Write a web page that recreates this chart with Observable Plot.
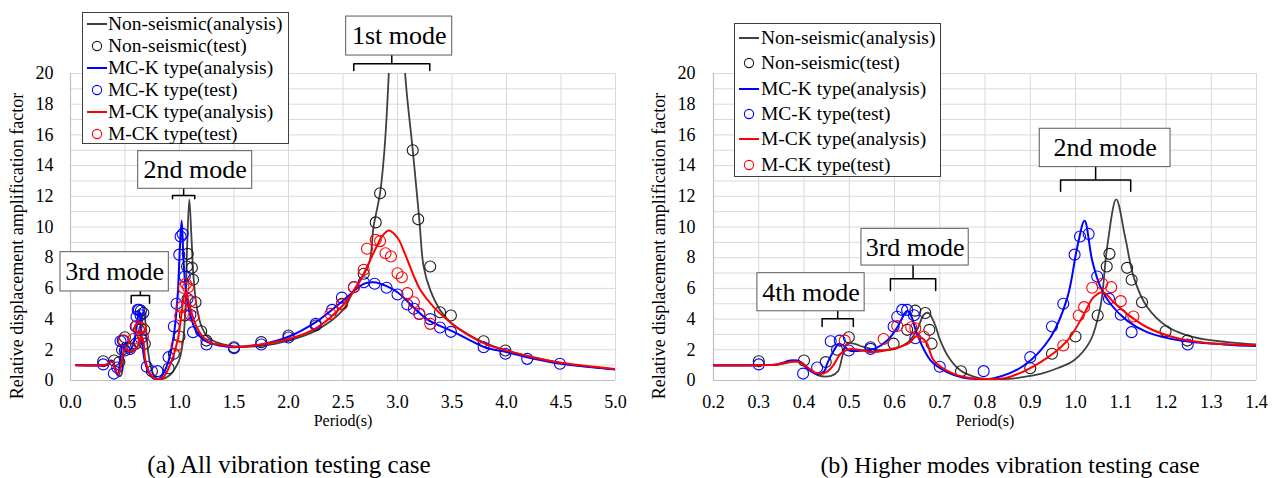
<!DOCTYPE html>
<html>
<head>
<meta charset="utf-8">
<script src="https://cdn.jsdelivr.net/npm/d3@7"></script>
<script src="https://cdn.jsdelivr.net/npm/@observablehq/plot@0.6"></script>
<style>
  html, body { margin: 0; padding: 0; background: #fff; }
  #wrap { position: relative; width: 1274px; height: 478px; overflow: hidden; font-family: 'Liberation Serif', 'Times New Roman', serif; color: #000; }
  .panel { position: absolute; top: 0; }
  .caption { position: absolute; top: 451px; height: 28px; line-height: 28px; text-align: center; font-size: 24px; white-space: nowrap; }
  .legend { position: absolute; background: #fff; border: 1px solid #404040; box-sizing: border-box; }
  .legend .row { position: absolute; left: 0; white-space: nowrap; font-size: 19.5px; line-height: 20px; }
  .legend svg { position: absolute; overflow: visible; }
  svg text { font-family: 'Liberation Serif', 'Times New Roman', serif; }
</style>
</head>
<body>
<div id="wrap"></div>
<script>
// ---------------- data ----------------
// Non-seismic (analysis)
const nonSeismicAnaT = [0.05,0.30,0.34,0.37,0.39,0.41,0.43,0.46,0.475,0.485,0.495,0.51,0.53,0.56,0.60,0.63,0.65,0.665,0.675,0.69,0.70,0.72,0.746,0.775,0.80,0.85,0.90,0.925,0.96,0.996,1.033,1.055,1.07,1.09,1.11,1.129,1.158,1.203,1.261,1.335,1.40,1.50,1.75,2.00,2.25,2.50,2.60,2.69,2.746,2.78,2.84,2.88,2.92,2.97,3.01,3.07,3.14,3.20,3.24,3.30,3.39,3.50,3.65,3.80,4.00,4.25,4.50,4.75,5.00];
const nonSeismicAnaA = [1.0,1.0,1.02,1.2,1.25,0.8,0.35,0.3,0.6,1.6,2.4,2.4,2.2,2.0,2.05,2.5,3.3,4.3,4.4,3.6,2.7,1.5,0.65,0.25,0.1,0.1,0.3,0.45,0.8,1.3,2.6,4.8,8.7,11.8,9.3,6.7,4.8,3.5,2.82,2.5,2.35,2.22,2.25,2.6,3.25,4.6,5.9,6.9,7.8,10.0,12.2,15,20,30,30,20,15,10.5,7.4,5.9,4.6,3.7,3.0,2.45,1.95,1.5,1.15,0.9,0.72];
// Non-seismic (test)
const nonSeismicTestT = [0.30,0.40,0.448,0.473,0.499,0.547,0.598,0.628,0.646,0.668,0.677,0.682,0.747,0.90,0.948,1.0,1.049,1.069,1.075,1.114,1.124,1.147,1.199,1.247,1.50,1.75,2.0,2.25,2.49,2.69,2.80,2.84,3.14,3.19,3.30,3.39,3.49,3.79,3.99];
const nonSeismicTestA = [1.25,1.3,1.2,2.0,2.82,2.17,2.4,3.3,4.55,4.4,3.3,2.4,0.6,0.8,1.74,2.87,4.23,7.43,8.25,7.34,6.56,5.1,3.21,2.6,2.17,2.5,2.93,3.58,5.0,6.95,10.3,12.2,15.0,10.5,7.43,4.45,4.23,2.56,1.95];
// MC-K type (analysis)
const mcKAnaT = [0.05,0.30,0.34,0.37,0.39,0.41,0.43,0.445,0.451,0.466,0.477,0.49,0.50,0.53,0.555,0.584,0.606,0.628,0.637,0.65,0.68,0.716,0.75,0.78,0.82,0.886,0.945,0.982,1.004,1.02,1.037,1.055,1.077,1.114,1.158,1.232,1.328,1.40,1.50,1.75,2.00,2.25,2.50,2.69,2.78,2.90,3.00,3.27,3.52,3.80,4.00,4.25,4.50,5.00];
const mcKAnaA = [1.0,1.0,1.05,1.3,1.25,0.7,0.4,0.6,1.08,1.95,2.4,2.2,1.95,1.95,2.05,2.6,3.45,4.55,4.2,3.0,1.3,0.55,0.2,0.1,0.15,0.98,2.82,5.4,8.7,10.4,7.8,6.1,5.0,3.9,3.15,2.6,2.35,2.24,2.17,2.35,2.85,3.8,5.2,6.3,6.4,6.15,5.75,4.0,3.15,2.17,1.85,1.42,1.09,0.72];
// MC-K type (test)
const mcKTestT = [0.30,0.398,0.429,0.459,0.479,0.499,0.547,0.598,0.606,0.617,0.628,0.643,0.646,0.70,0.797,0.90,0.948,0.973,0.998,1.01,1.029,1.048,1.074,1.10,1.124,1.248,1.50,1.75,2.0,2.25,2.40,2.49,2.60,2.69,2.79,2.90,3.0,3.09,3.15,3.20,3.30,3.39,3.49,3.79,3.99,4.19,4.49];
const mcKTestA = [1.05,0.45,0.85,2.56,2.6,1.95,2.06,3.52,4.15,4.6,4.6,4.25,2.75,0.9,0.61,1.52,3.52,5.0,8.2,9.38,9.55,6.78,5.32,4.28,3.15,2.35,2.1,2.35,2.8,3.69,4.6,5.4,6.08,6.4,6.3,6.04,5.6,4.95,4.67,4.34,4.0,3.45,3.17,2.17,1.74,1.41,1.09];
// M-CK type (analysis)
const mCKAnaT = [0.05,0.30,0.34,0.37,0.39,0.41,0.43,0.45,0.465,0.481,0.503,0.53,0.555,0.60,0.63,0.65,0.67,0.687,0.731,0.77,0.80,0.85,0.923,0.982,1.019,1.04,1.061,1.084,1.114,1.158,1.217,1.29,1.40,1.50,1.75,2.00,2.25,2.50,2.65,2.72,2.80,2.86,2.92,3.00,3.06,3.15,3.21,3.33,3.50,3.64,3.80,4.00,4.25,4.50,5.00];
const mCKAnaA = [1.0,1.0,1.05,1.22,1.2,0.8,0.45,0.55,1.0,1.74,2.05,1.95,1.85,2.1,2.4,2.9,2.5,1.3,0.43,0.15,0.1,0.2,1.2,2.6,4.34,5.43,5.75,5.1,4.34,3.47,2.82,2.45,2.3,2.2,2.35,2.7,3.4,4.9,6.4,7.4,8.6,9.4,9.77,9.3,8.4,6.8,5.9,4.8,3.7,3.0,2.4,1.95,1.5,1.15,0.75];
// M-CK type (test)
const mCKTestT = [0.49,0.576,0.606,0.637,0.646,0.665,0.973,1.007,1.019,1.037,1.059,1.079,1.10,1.128,2.385,2.49,2.60,2.69,2.72,2.80,2.84,2.89,2.94,3.0,3.04,3.09,3.15,3.20,3.30];
const mCKTestA = [2.6,2.7,3.55,3.47,3.4,2.85,2.28,4.23,4.78,6.04,6.3,6.08,5.17,4.17,4.34,4.95,6.08,7.21,8.58,9.16,9.08,8.29,8.08,6.99,6.73,5.69,5.1,4.34,3.69];

const xTicksA = [0.0,0.5,1.0,1.5,2.0,2.5,3.0,3.5,4.0,4.5,5.0];
const xTicksB = [0.2,0.3,0.4,0.5,0.6,0.7,0.8,0.9,1.0,1.1,1.2,1.3,1.4];
const yTicks = [0,2,4,6,8,10,12,14,16,18,20];
const yGrid = [0,1,2,3,4,5,6,7,8,9,10,11,12,13,14,15,16,17,18,19,20];

const seriesNames = ["Non-seismic(analysis)","Non-seismic(test)","MC-K type(analysis)","MC-K type(test)","M-CK type(analysis)","M-CK type(test)"];
const captionA = "(a) All vibration testing case";
const captionB = "(b) Higher modes vibration testing case";
const xLabel = "Period(s)";
const yLabel = "Relative displacement amplification factor";

// ---------------- styles / layout ----------------
const FONT = "Liberation Serif, Times New Roman, serif";
const C_BLACK = "#404040", C_BLACK_DOT = "#1a1a1a", C_BLUE = "#0000ff", C_RED = "#ff0000";

const rows = (T, A) => T.map((t, i) => ({t, a: A[i]}));
const series = [
  {type: "line", data: rows(nonSeismicAnaT, nonSeismicAnaA), color: C_BLACK, w: 1.8},
  {type: "dot", data: rows(nonSeismicTestT, nonSeismicTestA), color: C_BLACK_DOT},
  {type: "line", data: rows(mcKAnaT, mcKAnaA), color: C_BLUE, w: 2},
  {type: "dot", data: rows(mcKTestT, mcKTestA), color: C_BLUE},
  {type: "line", data: rows(mCKAnaT, mCKAnaA), color: C_RED, w: 2},
  {type: "dot", data: rows(mCKTestT, mCKTestA), color: C_RED}
];

// annotation layout (in scale units)
const annotA = {
  boxes: [
    {label: "1st mode", x1: 2.529, x2: 3.502, y1: 21.17, y2: 23.71},
    {label: "2nd mode", x1: 0.621, x2: 1.667, y1: 12.49, y2: 14.94},
    {label: "3rd mode", x1: -0.092, x2: 0.902, y1: 5.80, y2: 8.36}
  ],
  brackets: [
    {x1: 2.599, x2: 3.296, yh: 20.63, ye: 20.20, yt: 21.17},
    {x1: 0.936, x2: 1.140, yh: 12.05, ye: 11.84, yt: 12.49},
    {x1: 0.557, x2: 0.725, yh: 5.54, ye: 5.04, yt: 5.80}
  ]
};
const annotB = {
  boxes: [
    {label: "2nd mode", x1: 0.921, x2: 1.210, y1: 13.90, y2: 16.40},
    {label: "3rd mode", x1: 0.527, x2: 0.764, y1: 7.49, y2: 9.88},
    {label: "4th mode", x1: 0.297, x2: 0.534, y1: 4.51, y2: 6.99}
  ],
  brackets: [
    {x1: 0.967, x2: 1.122, yh: 13.07, ye: 12.33, yt: 13.90},
    {x1: 0.591, x2: 0.691, yh: 6.63, ye: 5.86, yt: 7.49},
    {x1: 0.440, x2: 0.509, yh: 4.02, ye: 3.52, yt: 4.51}
  ]
};

function bracketPts(list) {
  const out = [];
  list.forEach((b, i) => {
    const xc = (b.x1 + b.x2) / 2;
    [[b.x1, b.ye], [b.x1, b.yh], [xc, b.yh], [xc, b.yt], [xc, b.yh], [b.x2, b.yh], [b.x2, b.ye]]
      .forEach(([x, y]) => out.push({id: i, x, y}));
  });
  return out;
}

function panel(cfg) {
  const marks = [
    Plot.ruleY(yGrid, {y: d => d, stroke: "#d9d9d9", strokeWidth: 1}),
    Plot.ruleX(cfg.xTicks, {x: d => d, stroke: "#d9d9d9", strokeWidth: 1}),
    Plot.ruleY([0], {stroke: "#bfbfbf", strokeWidth: 1.2}),
    Plot.ruleX([cfg.xDomain[0]], {stroke: "#bfbfbf", strokeWidth: 1.2}),
    Plot.axisX({ticks: cfg.xTicks, tickFormat: d3.format(".1f"), tickSize: 0, tickPadding: 15, fontSize: 18, fontFamily: FONT, label: null}),
    Plot.axisY({ticks: yTicks, tickSize: 0, tickPadding: cfg.yPad, fontSize: 18, fontFamily: FONT, label: null}),
    Plot.text([xLabel], {frameAnchor: "bottom", dy: 45, fontSize: 16, fontFamily: FONT}),
    Plot.text([yLabel], {frameAnchor: "left", textAnchor: "middle", rotate: -90, dx: cfg.yLabelDx, dy: 19, fontSize: 18, fontFamily: FONT})
  ];
  for (const s of series) {
    if (s.type === "line") {
      marks.push(Plot.line(s.data, {x: "t", y: "a", stroke: s.color, strokeWidth: s.w, curve: "catmull-rom", clip: true}));
    } else {
      marks.push(Plot.dot(s.data, {x: "t", y: "a", r: 5.5, stroke: s.color, fill: "none", strokeWidth: 1.1, clip: true}));
    }
  }
  marks.push(
    Plot.line(bracketPts(cfg.annot.brackets), {x: "x", y: "y", z: "id", stroke: "#000", strokeWidth: 1.5}),
    Plot.rect(cfg.annot.boxes, {x1: "x1", x2: "x2", y1: "y1", y2: "y2", fill: "#fff", stroke: "#595959", strokeWidth: 1}),
    Plot.text(cfg.annot.boxes, {x: d => (d.x1 + d.x2) / 2, y: d => (d.y1 + d.y2) / 2, text: "label", fontSize: 26, fontFamily: FONT})
  );
  const svg = Plot.plot({
    width: 637, height: 440,
    marginTop: 73, marginBottom: 60, marginLeft: cfg.ml, marginRight: cfg.mr,
    x: {type: "linear", domain: cfg.xDomain},
    y: {type: "linear", domain: [0, 20]},
    style: {fontFamily: FONT, color: "#000", background: "transparent", overflow: "visible"},
    marks
  });
  svg.setAttribute("font-family", FONT);
  return svg;
}

const wrap = document.getElementById("wrap");

function addPanel(left, cfg) {
  const d = document.createElement("div");
  d.className = "panel";
  d.style.left = left + "px";
  d.appendChild(panel(cfg));
  wrap.appendChild(d);
}
addPanel(0, {xDomain: [0, 5], xTicks: xTicksA, ml: 70, mr: 22, yPad: 17, yLabelDx: -53, annot: annotA});
addPanel(637, {xDomain: [0.2, 1.4], xTicks: xTicksB, ml: 76, mr: 18, yPad: 18, yLabelDx: -54, annot: annotB});

function addCaption(text, left, width, size) {
  const c = document.createElement("div");
  c.className = "caption";
  c.style.left = left + "px";
  c.style.width = width + "px";
  c.style.fontSize = size + "px";
  c.textContent = text;
  wrap.appendChild(c);
}
addCaption(captionA, 0, 578, 25);
addCaption(captionB, 746, 528, 24);

// legend
function addLegend(box) {
  const lg = document.createElement("div");
  lg.className = "legend";
  Object.assign(lg.style, {left: box.left + "px", top: box.top + "px", width: box.w + "px", height: box.h + "px"});
  series.forEach((s, i) => {
    const cy = box.rows[i];
    const svg = d3.create("svg").attr("width", 22).attr("height", 12)
      .style("left", box.symX + "px").style("top", (cy - 6) + "px");
    if (s.type === "line") {
      svg.append("line").attr("x1", 0).attr("x2", 20).attr("y1", 6).attr("y2", 6).attr("stroke", s.color).attr("stroke-width", 2);
    } else {
      svg.append("circle").attr("cx", 10).attr("cy", 6).attr("r", 4.6).attr("fill", "none").attr("stroke", s.color).attr("stroke-width", 1.1);
    }
    lg.appendChild(svg.node());
    const r = document.createElement("div");
    r.className = "row";
    r.style.left = box.textX + "px";
    r.style.top = (cy - 10) + "px";
    r.textContent = seriesNames[i];
    lg.appendChild(r);
  });
  wrap.appendChild(lg);
}
addLegend({left: 82, top: 12, w: 207, h: 132, symX: 4, textX: 25, rows: [10.5, 32.5, 54.5, 76.5, 98.5, 120.5]});
addLegend({left: 734, top: 23, w: 207, h: 154, symX: 4, textX: 26, rows: [13.5, 38.5, 64.5, 90, 115, 140.5]});
</script>
</body>
</html>
